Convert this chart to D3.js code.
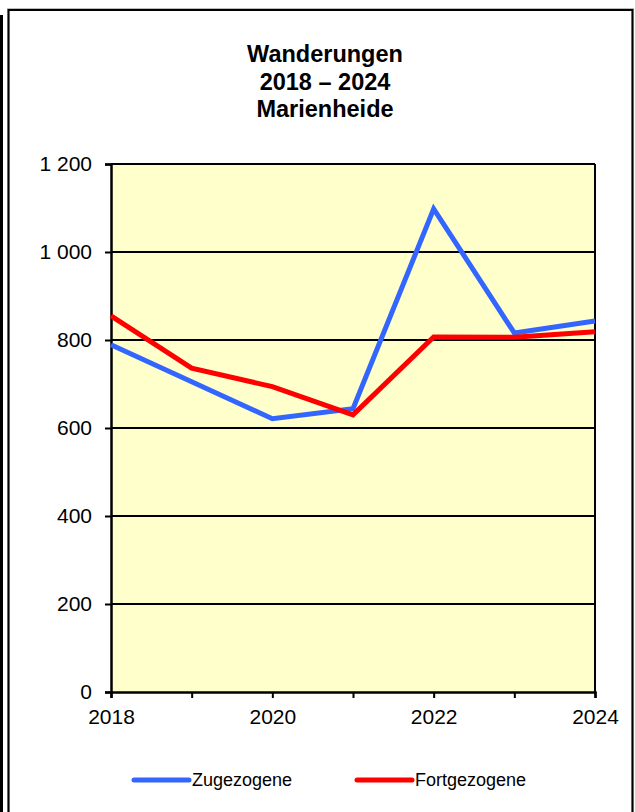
<!DOCTYPE html>
<html>
<head>
<meta charset="utf-8">
<script src="https://cdn.jsdelivr.net/npm/d3@7"></script>
<style>
 body { margin: 0; background: #fff; }
 svg { display: block; font-family: "Liberation Sans", Arial, sans-serif; }
</style>
</head>
<body>
<div id="chart"></div>
<script>
/*************
Data
**************/
var years = [2018, 2019, 2020, 2021, 2022, 2023, 2024];
var zugezogene = [789, 705, 621, 644, 1098, 816, 843];
var fortgezogene = [855, 736, 694, 630, 807, 806, 819];
var yTicks = [0, 200, 400, 600, 800, 1000, 1200];
var xLabels = [2018, 2020, 2022, 2024];
var titleLines = ["Wanderungen", "2018 – 2024", "Marienheide"];
var seriesNames = ["Zugezogene", "Fortgezogene"];

/*************
Params
**************/
var width = 635, height = 812;
var plot = { left: 111, right: 595, top: 164, bottom: 692 };
var blue = "#3366ff", red = "#ff0000";

var de = d3.formatLocale({ decimal: ",", thousands: " ", grouping: [3], currency: ["", " €"] });
var fmt = de.format(",d");

var x = d3.scaleLinear().domain([2018, 2024]).range([plot.left, plot.right]);
var y = d3.scaleLinear().domain([0, 1200]).range([plot.bottom, plot.top]);

const svg = d3.select("#chart")
 .append("svg")
 .attr("width", width)
 .attr("height", height);

// frame
svg.append("rect").attr("x", 0).attr("y", 15).attr("width", 3).attr("height", height).attr("fill", "#000");
svg.append("line").attr("x1", 7).attr("x2", 634).attr("y1", 8.5).attr("y2", 8.5).attr("stroke", "#bbb").attr("stroke-width", 1);
svg.append("path")
 .attr("d", "M8.5," + (height + 5) + "V10H632.5V" + (height + 5))
 .attr("fill", "none")
 .attr("stroke", "#000")
 .attr("stroke-width", 2.2);

// title
svg.append("text")
 .attr("x", 325)
 .attr("text-anchor", "middle")
 .attr("font-weight", "bold")
 .attr("font-size", 23.5)
 .selectAll("tspan")
 .data(titleLines)
 .enter().append("tspan")
 .attr("x", 325)
 .attr("y", (_, i) => [62, 90, 117][i])
 .text(d => d);

/*************
Plot area
**************/
svg.append("rect")
 .attr("x", plot.left).attr("y", plot.top)
 .attr("width", plot.right - plot.left).attr("height", plot.bottom - plot.top)
 .attr("fill", "#ffffcc");

svg.append("g")
 .selectAll("line")
 .data(yTicks.filter(d => d > 0))
 .enter().append("line")
 .attr("x1", plot.left).attr("x2", plot.right)
 .attr("y1", d => y(d)).attr("y2", d => y(d))
 .attr("stroke", "#000")
 .attr("stroke-width", 2);

svg.append("line")
 .attr("x1", plot.right).attr("x2", plot.right)
 .attr("y1", plot.top).attr("y2", plot.bottom)
 .attr("stroke", "#000").attr("stroke-width", 2);

// axes
const yAxis = svg.append("g")
 .attr("transform", "translate(" + plot.left + ",0)")
 .call(d3.axisLeft(y).tickValues(yTicks).tickFormat(fmt).tickSize(6).tickPadding(13));

const xAxis = svg.append("g")
 .attr("transform", "translate(0," + plot.bottom + ")")
 .call(d3.axisBottom(x).tickValues(years)
   .tickFormat(d => xLabels.indexOf(d) >= 0 ? d : "")
   .tickSize(6).tickPadding(11));

[yAxis, xAxis].forEach(a => {
 a.select(".domain").attr("stroke", "#000").attr("stroke-width", 2.5);
 a.selectAll(".tick line").attr("stroke", "#000").attr("stroke-width", 2);
 a.selectAll("text")
  .attr("font-family", "Liberation Sans, Arial, sans-serif")
  .attr("font-size", 21)
  .attr("fill", "#000");
});
xAxis.selectAll(".tick text").attr("dy", "0.71em");

/*************
Lines
**************/
var line = d3.line()
 .x((d, i) => x(years[i]))
 .y(d => y(d));

svg.append("path")
 .attr("d", line(zugezogene))
 .attr("fill", "none")
 .attr("stroke", blue)
 .attr("stroke-width", 5)
 .attr("stroke-linejoin", "miter");

svg.append("path")
 .attr("d", line(fortgezogene))
 .attr("fill", "none")
 .attr("stroke", red)
 .attr("stroke-width", 5)
 .attr("stroke-linejoin", "miter");

/*************
Legend
**************/
const legend = svg.append("g")
 .selectAll("g")
 .data(seriesNames)
 .enter().append("g")
 .attr("transform", (_, i) => "translate(" + [134, 357][i] + ",780)");

legend.append("line")
 .attr("x1", 0).attr("x2", 55)
 .attr("y1", 0).attr("y2", 0)
 .attr("stroke", (_, i) => [blue, red][i])
 .attr("stroke-width", 5)
 .attr("stroke-linecap", "round");

legend.append("text")
 .attr("x", 58)
 .attr("y", 6)
 .attr("font-size", 18)
 .text(d => d);
</script>
</body>
</html>
